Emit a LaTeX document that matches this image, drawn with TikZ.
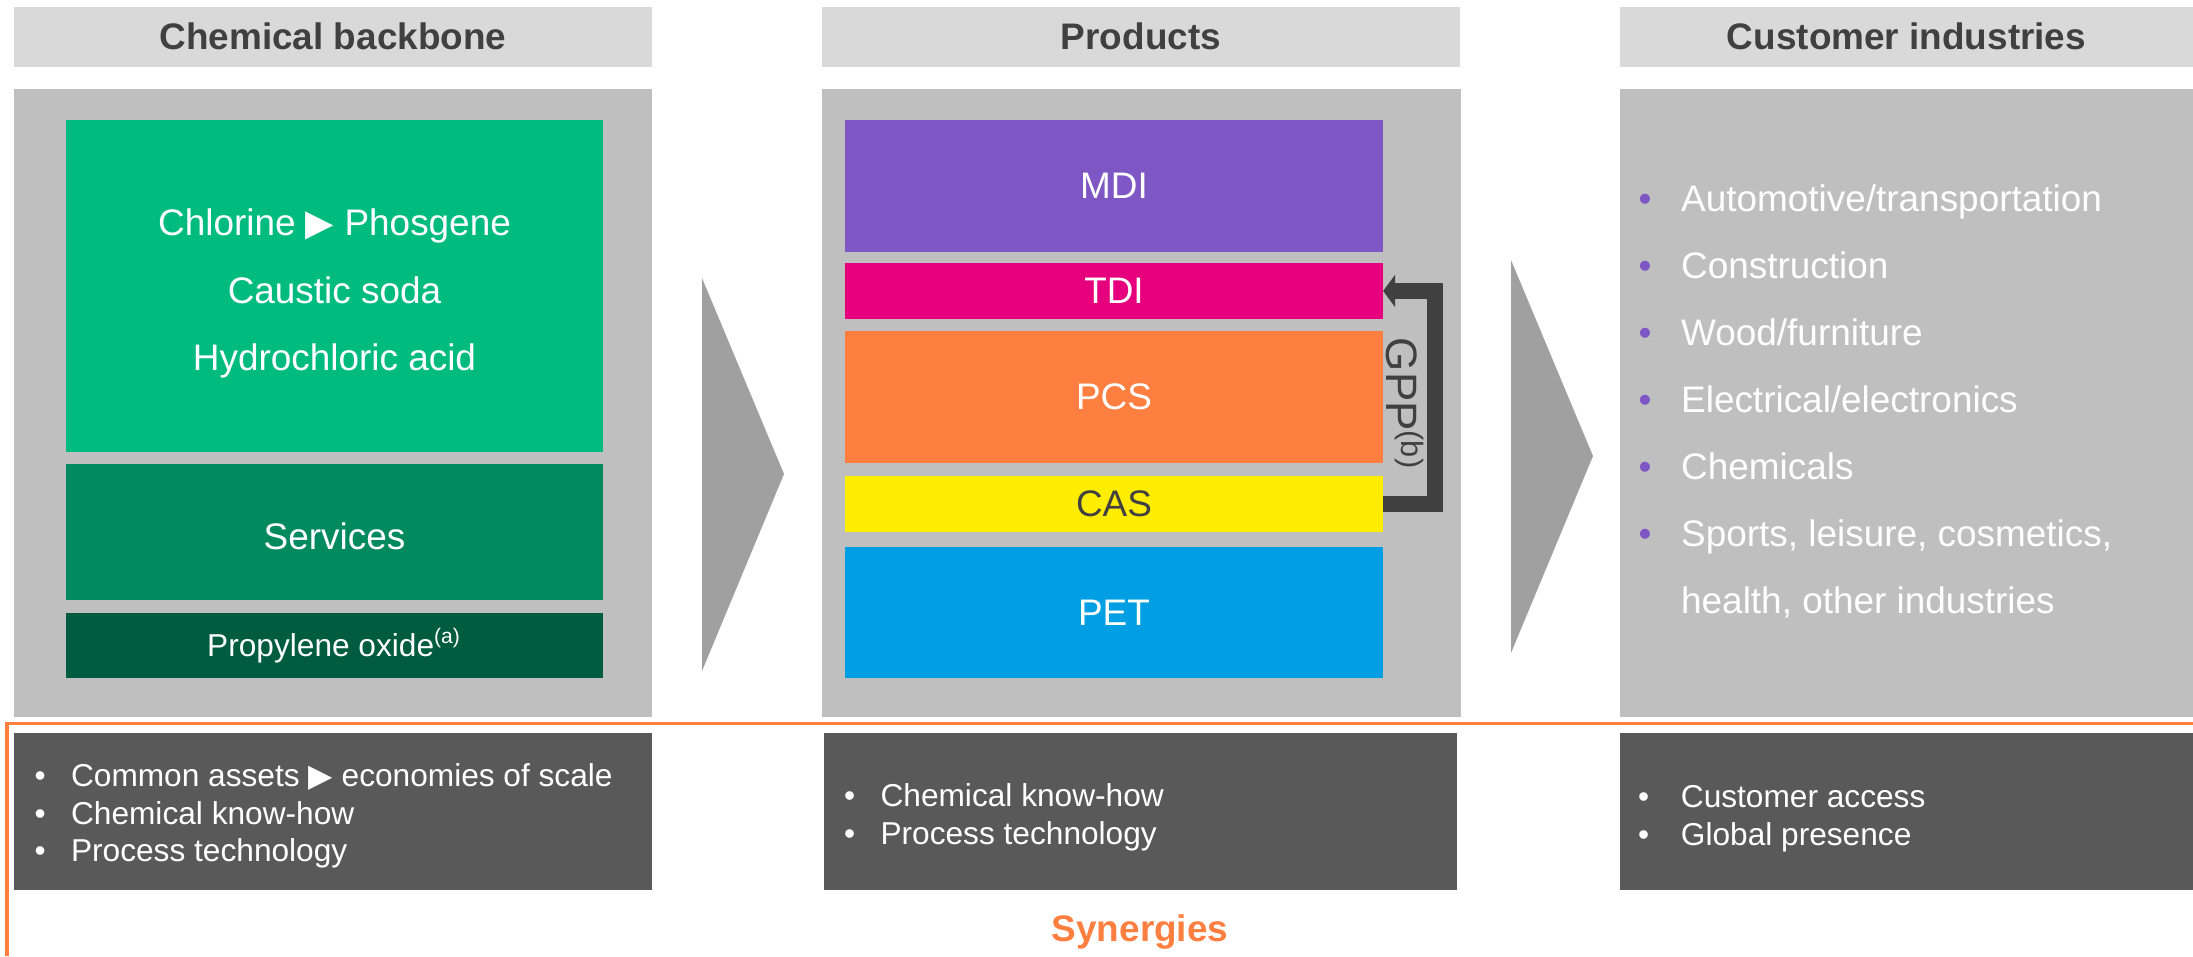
\documentclass[tikz,border=0pt]{standalone}
\usepackage{fontspec}
\setmainfont{Liberation Sans}
\newfontfamily\trifont{DejaVu Sans}
\usetikzlibrary{positioning,arrows.meta}

\definecolor{hdrgray}{HTML}{D9D9D9}
\definecolor{panelgray}{HTML}{BFBFBF}
\definecolor{chevgray}{HTML}{A0A0A0}
\definecolor{darkbox}{HTML}{595959}
\definecolor{txtgray}{HTML}{404040}
\definecolor{green1}{HTML}{00BB7E}
\definecolor{green2}{HTML}{008A5E}
\definecolor{green3}{HTML}{005C3E}
\definecolor{mdicol}{HTML}{7E57C5}
\definecolor{tdicol}{HTML}{E6007E}
\definecolor{pcscol}{HTML}{FF7F41}
\definecolor{cascol}{HTML}{FFED00}
\definecolor{petcol}{HTML}{009FE3}
\definecolor{synorange}{HTML}{FF7F41}

\newcommand{\pbul}{\makebox[1.15em][l]{\textcolor{mdicol}{\textbullet}}}
\newcommand{\wbul}[1][1.15em]{\makebox[#1][l]{\textbullet}}

\begin{document}
\begin{tikzpicture}[
		x=0.01cm, y=-0.01cm,
		hdr/.style={rectangle, fill=hdrgray, minimum height=0.60cm, inner sep=0pt, outer sep=0pt, text=txtgray, font=\fontsize{10.5pt}{12pt}\selectfont\bfseries},
		panel/.style={rectangle, fill=panelgray, minimum height=6.275cm, inner sep=0pt, outer sep=0pt},
		blk/.style={rectangle, minimum width=5.37cm, inner sep=0pt, outer sep=0pt, text=white, align=center, font=\fontsize{10.5pt}{19.2pt}\selectfont},
		prod/.style={blk, minimum width=5.38cm},
		synbox/.style={rectangle, fill=darkbox, minimum height=1.57cm, inner sep=0pt, outer sep=0pt},
		syntext/.style={anchor=west, inner sep=0pt, text=white, align=left, font=\fontsize{9pt}{10.7pt}\selectfont},
		chev/.style={fill=chevgray},
		gpp/.style={draw=txtgray, line width=0.16cm, -{Triangle[length=0.12cm,width=0.32cm]}}
		]
		\useasboundingbox (0,0) rectangle (2193,956);
		
		% Column headers
		\node[hdr, minimum width=6.38cm] (hdrbackbone) at (333,36.5) {Chemical backbone};
		\node[hdr, minimum width=6.38cm] (hdrproducts) at (1141,36.5) {Products};
		\node[hdr, minimum width=5.73cm] (hdrcustomers) at (1906.5,36.5) {Customer industries};
		
		% Gray panels
		\node[panel, minimum width=6.38cm] (pnlbackbone) at (333,403) {};
		\node[panel, minimum width=6.39cm] (pnlproducts) at (1141.5,403) {};
		\node[panel, minimum width=5.73cm] (pnlcustomers) at (1906.5,403) {};
		
		% Chemical backbone
		\node[blk, fill=green1, minimum height=3.32cm] (chlor) at (334.5,286.3) {\rule{0pt}{0.41cm}Chlorine {\trifont ▶} Phosgene\\Caustic soda\\Hydrochloric acid};
		\node[blk, fill=green2, minimum height=1.364cm, below=0.114cm of chlor] (services) {\rule{0pt}{0.345cm}Services};
		\node[blk, fill=green3, minimum height=0.652cm, below=0.128cm of services, font=\fontsize{9pt}{11pt}\selectfont] (propox) {Propylene oxide\textsuperscript{(a)}};
		
		% Products
		\node[prod, fill=mdicol, minimum height=1.313cm] (mdi) at (1114,186) {MDI};
		\node[prod, fill=tdicol, minimum height=0.555cm, below=0.115cm of mdi] (tdi) {TDI};
		\node[prod, fill=pcscol, minimum height=1.314cm, below=0.124cm of tdi] (pcs) {PCS};
		\node[prod, fill=cascol, text=txtgray, minimum height=0.557cm, below=0.136cm of pcs] (cas) {CAS};
		\node[prod, fill=petcol, minimum height=1.313cm, below=0.151cm of cas] (pet) {PET};
		
		% GPP loop
		\draw[gpp] (cas.east) -- ++(0.515cm,0) |- (tdi.east);
		\node[rotate=-90, text=txtgray, font=\fontsize{12.5pt}{14pt}\selectfont, inner sep=0pt] (gpplabel) at (1405,404) {GPP\textsuperscript{(b)}};
		
		% Chevrons
		\fill[chev] (702,278) -- (784,474) -- (702,671) -- cycle;
		\fill[chev] (1511,260) -- (1593,456) -- (1511,653) -- cycle;
		
		% Customer industries
		\node[anchor=west, inner sep=0pt, text=white, align=left, font=\fontsize{10.5pt}{19.05pt}\selectfont] (custlist) at (1638,401) {\pbul Automotive/transportation\\ \pbul Construction\\ \pbul Wood/furniture\\ \pbul Electrical/electronics\\ \pbul Chemicals\\ \pbul Sports, leisure, cosmetics,\\ \hspace*{1.15em}health, other industries};
		
		% Synergies
		\draw[synorange, line width=0.03cm] (2193,723) -- (7,723) -- (7,956);
		\node[synbox, minimum width=6.38cm] (synbackbone) at (333,811.5) {};
		\node[synbox, minimum width=6.33cm] (synproducts) at (1140.5,811.5) {};
		\node[synbox, minimum width=5.73cm] (syncustomers) at (1906.5,811.5) {};
		\node[syntext] (synbackbonetxt) at (34,816) {\wbul Common assets {\trifont ▶} economies of scale\\ \wbul Chemical know-how\\ \wbul Process technology};
		\node[syntext] (synproductstxt) at (843.5,817.5) {\wbul Chemical know-how\\ \wbul Process technology};
		\node[syntext] (syncustomerstxt) at (1637.5,818.5) {\wbul[1.35em]Customer access\\ \wbul[1.35em]Global presence};
		\node[text=synorange, font=\fontsize{10.5pt}{12pt}\selectfont\bfseries, inner sep=0pt] (synergies) at (1140,932) {Synergies};
		
\end{tikzpicture}
\end{document}
